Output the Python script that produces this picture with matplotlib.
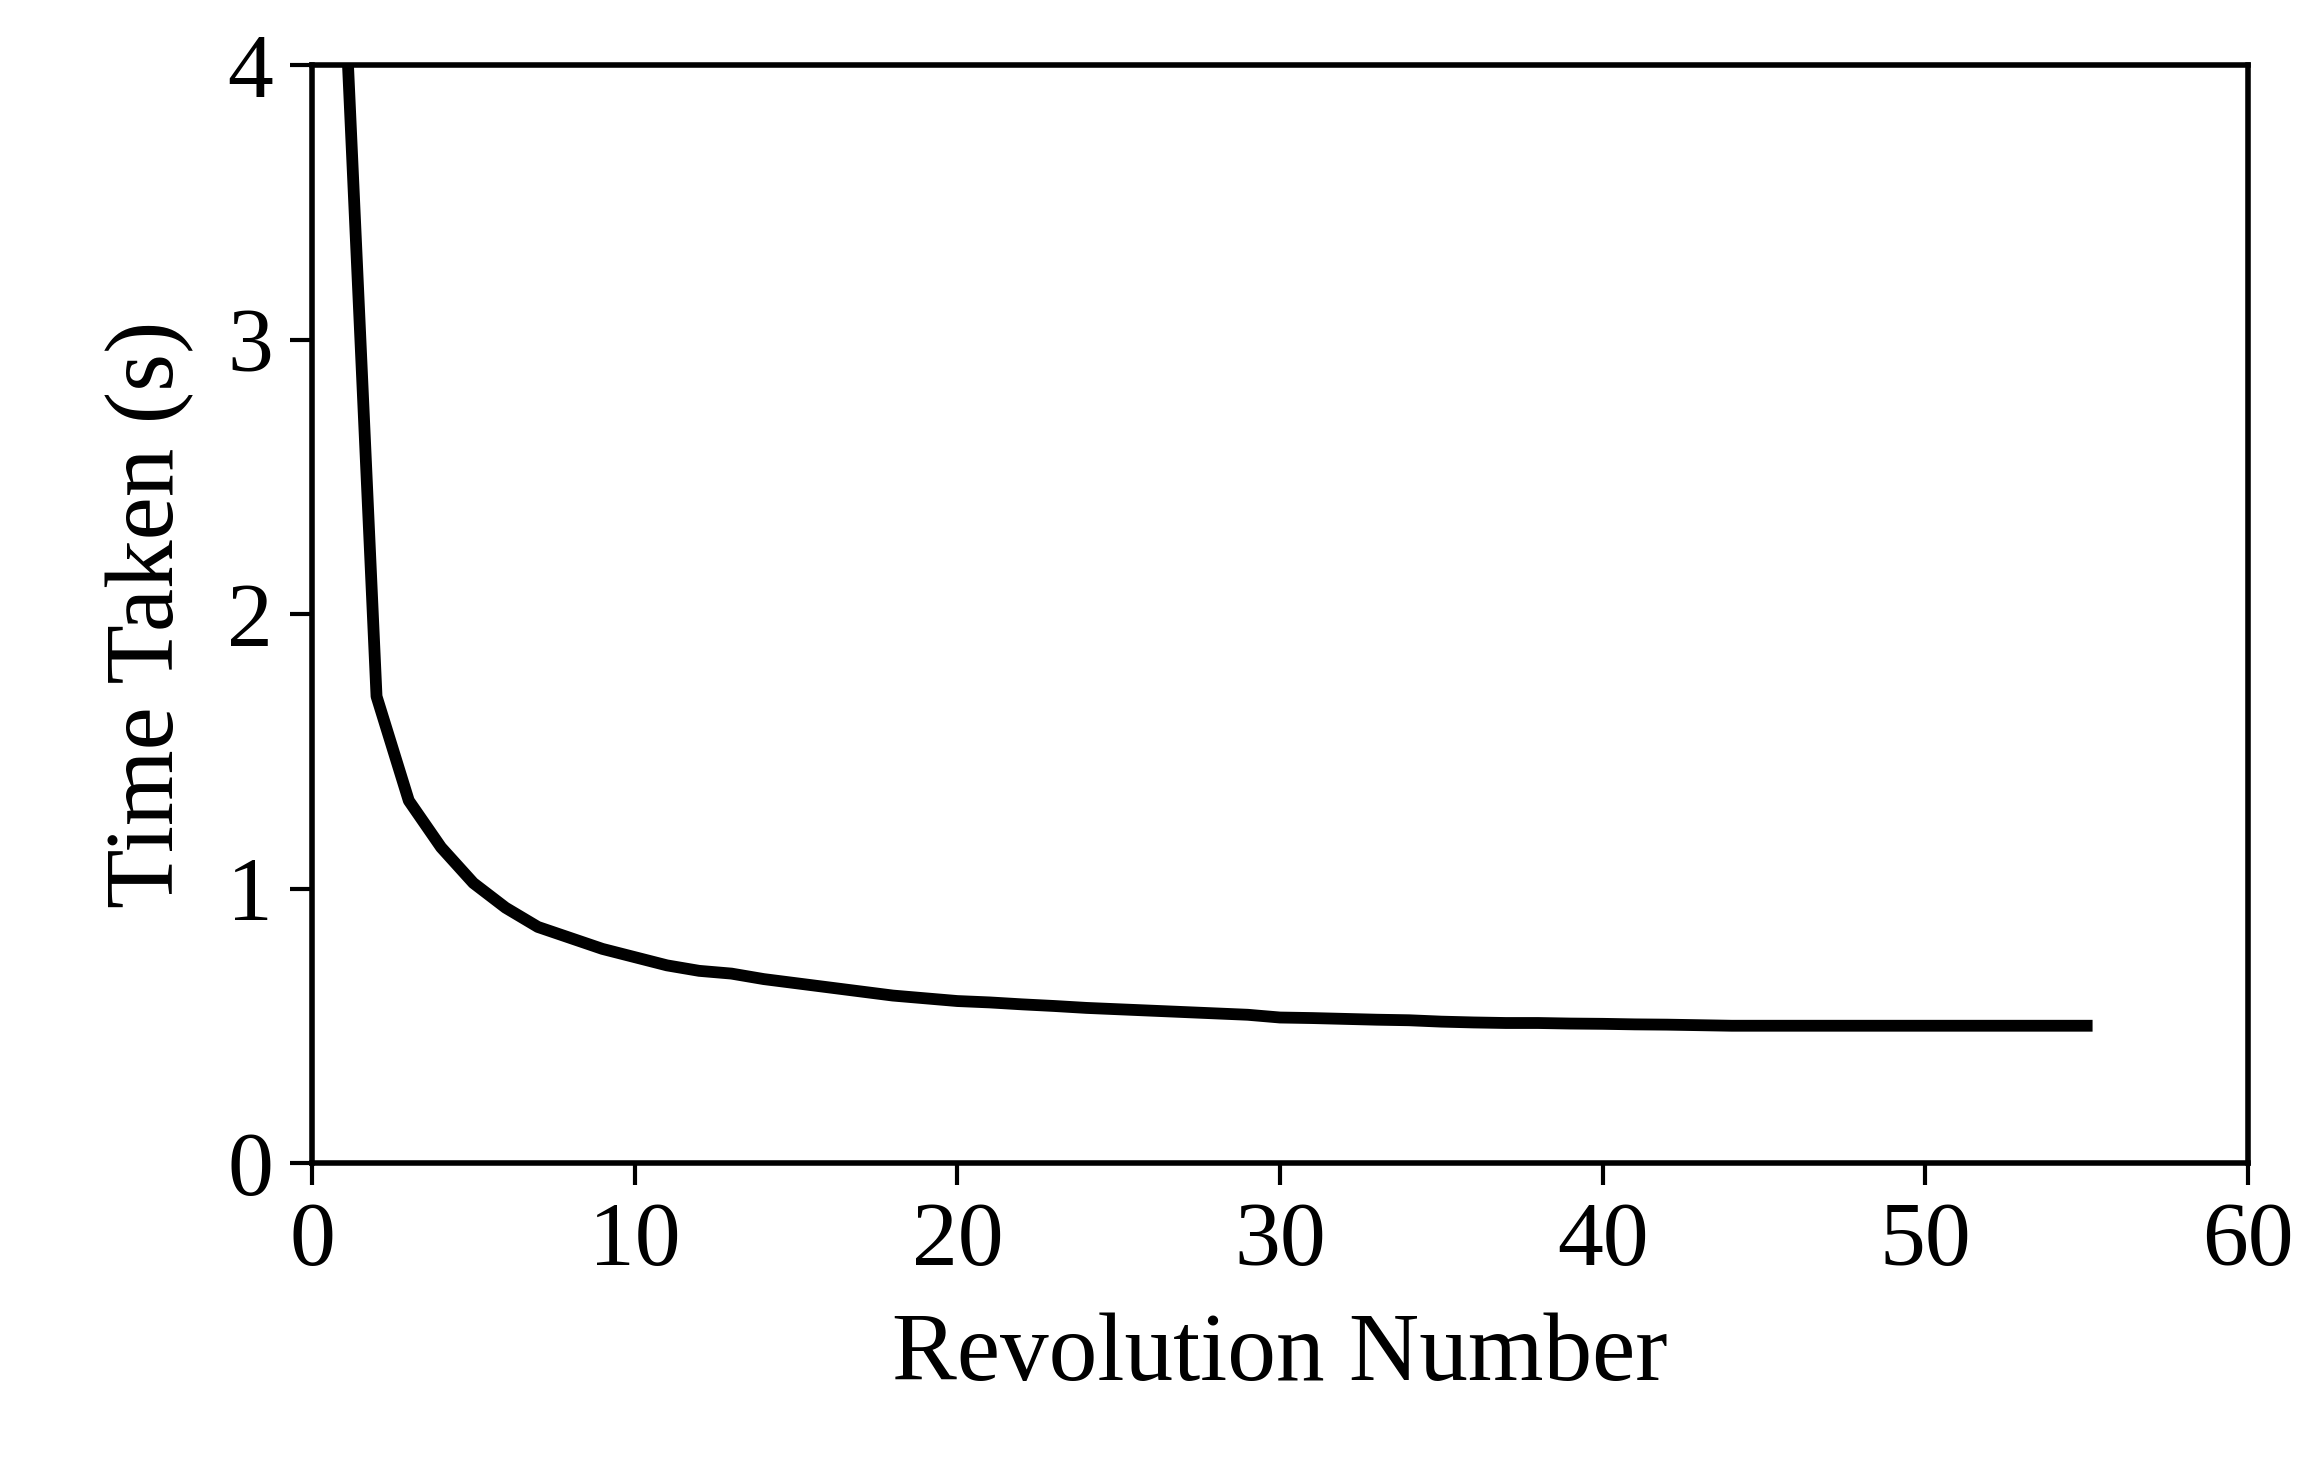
import matplotlib.pyplot as plt

rev = [0.1] + list(range(1, 56))
time_taken = [60, 4.3, 1.7, 1.32, 1.15, 1.02, 0.93, 0.86, 0.82, 0.78, 0.75,
              0.72, 0.70, 0.69, 0.67, 0.655, 0.64, 0.625, 0.61, 0.60, 0.59,
              0.585, 0.578, 0.572, 0.565, 0.56, 0.555, 0.55, 0.545, 0.54, 0.53,
              0.528, 0.525, 0.522, 0.52, 0.515, 0.512, 0.51, 0.51, 0.508, 0.507,
              0.505, 0.504, 0.502, 0.5, 0.5, 0.5, 0.5, 0.5, 0.5, 0.5,
              0.5, 0.5, 0.5, 0.5, 0.5]

plt.rcParams['font.family'] = ['Liberation Serif', 'DejaVu Serif']

fig = plt.figure(figsize=(23.06, 14.69), dpi=100)
ax = fig.add_axes([312 / 2306, 1 - 1163 / 1469, (2248 - 312) / 2306, (1163 - 65) / 1469])
ax.plot(rev, time_taken, color='black', lw=8.5, solid_joinstyle='round')
ax.set_xlim(0, 60)
ax.set_ylim(0, 4)
ax.set_xticks(range(0, 61, 10))
ax.set_yticks(range(0, 5))
ax.tick_params(labelsize=66, length=16, width=3, direction='out', pad=12)
for s in ax.spines.values():
    s.set_linewidth(4)
ax.set_xlabel('Revolution Number', fontsize=70, labelpad=20)
ax.set_ylabel('Time Taken (s)', fontsize=70, labelpad=24)
fig.savefig('out.png', dpi=100)
